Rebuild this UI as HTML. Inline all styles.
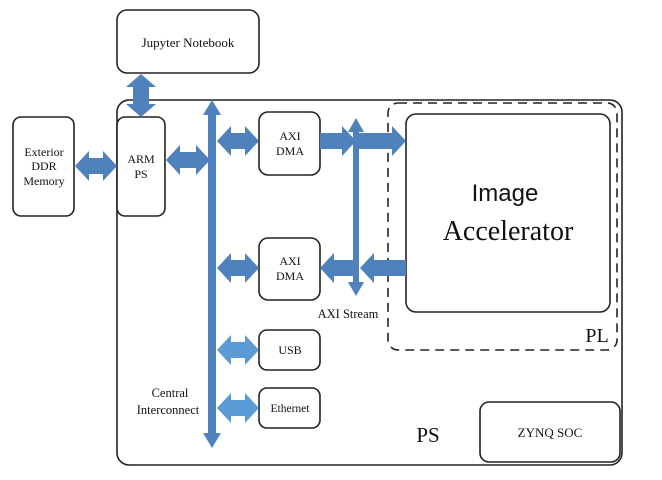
<!DOCTYPE html>
<html><head><meta charset="utf-8"><style>
html,body{margin:0;padding:0;background:#fff;width:662px;height:480px;overflow:hidden}
svg{display:block}
text{font-family:"Liberation Serif",serif;fill:#111}
</style></head><body>
<svg width="662" height="480" viewBox="0 0 662 480" xmlns="http://www.w3.org/2000/svg">
<g fill="none" stroke="#222" stroke-width="1.6">
<rect x="117" y="100" width="505" height="365" rx="12"/>
<rect x="117" y="10" width="142" height="63" rx="10" fill="#fff"/>
<rect x="13" y="117" width="61" height="99" rx="8" fill="#fff"/>
<rect x="117" y="117" width="48" height="99" rx="8" fill="#fff"/>
<rect x="259" y="112" width="61" height="63" rx="9" fill="#fff"/>
<rect x="259" y="238" width="61" height="62" rx="9" fill="#fff"/>
<rect x="259" y="330" width="61" height="40" rx="8" fill="#fff"/>
<rect x="259" y="388" width="61" height="40" rx="8" fill="#fff"/>
<rect x="388" y="103" width="229" height="247" rx="10" stroke-dasharray="9,6"/>
<rect x="406" y="114" width="204" height="198" rx="10" fill="#fff"/>
<rect x="480" y="402" width="140" height="60" rx="9" fill="#fff"/>
</g>
<g fill="#4f81bd">
<polygon points="75,166 89,151 89,158 103,158 103,151 117,166 103,181 103,174 89,174 89,181"/>
<polygon points="166,160 180,145 180,152 196,152 196,145 210,160 196,175 196,168 180,168 180,175"/>
<polygon points="217,141 231,126 231,133 245,133 245,126 259,141 245,156 245,149 231,149 231,156"/>
<polygon points="217,268 231,253 231,260 245,260 245,253 259,268 245,283 245,276 231,276 231,283"/>
<polygon points="320,133 342,133 342,126 356,141 342,156 342,149 320,149"/>
<polygon points="358,133 392,133 392,126 406,141 392,156 392,149 358,149"/>
<polygon points="406,260 374,260 374,253 360,268 374,283 374,276 406,276"/>
<polygon points="354,260 334,260 334,253 320,268 334,283 334,276 354,276"/>
<polygon points="141,74 156,87 149,87 149,104 156,104 141,117 126,104 133,104 133,87 126,87"/>
<polygon points="212,100 221,115 216,115 216,433 221,433 212,448 203,433 208,433 208,115 203,115"/>
<polygon points="356,118 364,132 359,132 359,282 364,282 356,296 348,282 353,282 353,132 348,132"/>
</g>
<g fill="#5b9bd5">
<polygon points="217,350 231,335 231,342 245,342 245,335 259,350 245,365 245,358 231,358 231,365"/>
<polygon points="217,408 231,393 231,400 245,400 245,393 259,408 245,423 245,416 231,416 231,423"/>
</g>
<g font-size="12" text-anchor="middle">
<text x="188" y="47" font-size="13">Jupyter Notebook</text>
<text x="44" y="156">Exterior</text>
<text x="44" y="170">DDR</text>
<text x="44" y="185">Memory</text>
<text x="141" y="163">ARM</text>
<text x="141" y="178">PS</text>
<text x="290" y="140">AXI</text>
<text x="290" y="155">DMA</text>
<text x="290" y="265">AXI</text>
<text x="290" y="280">DMA</text>
<text x="290" y="354">USB</text>
<text x="290" y="412" font-size="11.5">Ethernet</text>
<text x="348" y="318" font-size="12.5">AXI Stream</text>
<text x="170" y="397" font-size="12.5">Central</text>
<text x="168" y="414" font-size="12.5">Interconnect</text>
<text x="550" y="437" font-size="13">ZYNQ SOC</text>
<text x="505" y="201" font-size="24" style="font-family:'Liberation Sans',sans-serif">Image</text>
<text x="508" y="240" font-size="28">Accelerator</text>
<text x="597" y="342" font-size="20">PL</text>
<text x="428" y="442" font-size="21">PS</text>
</g>
</svg>
</body></html>
